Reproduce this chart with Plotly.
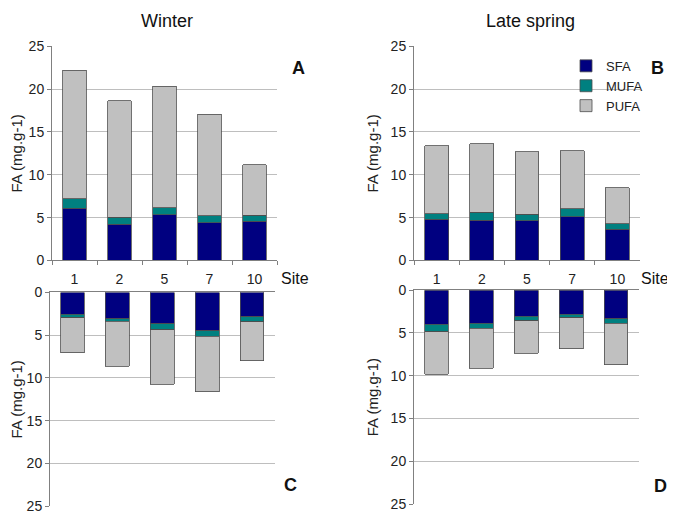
import plotly.graph_objects as go

sites = ["1", "2", "5", "7", "10"]

# Panel A: Winter (top)
a_sfa = [6.07, 4.22, 5.32, 4.41, 4.56]
a_mufa = [1.13, 0.83, 0.83, 0.79, 0.72]
a_pufa = [15.0, 13.62, 14.17, 11.88, 5.88]

# Panel B: Late spring (top)
b_sfa = [4.79, 4.71, 4.64, 5.13, 3.66]
b_mufa = [0.68, 0.91, 0.75, 0.90, 0.60]
b_pufa = [7.92, 8.03, 7.28, 6.79, 4.22]

# Panel C: Winter (bottom)
c_sfa = [2.57, 3.06, 3.66, 4.49, 2.87]
c_mufa = [0.41, 0.30, 0.68, 0.65, 0.57]
c_pufa = [4.08, 5.25, 6.38, 6.49, 4.53]

# Panel D: Late spring (bottom)
d_sfa = [3.97, 3.85, 3.02, 2.79, 3.36]
d_mufa = [0.86, 0.57, 0.57, 0.42, 0.53]
d_pufa = [4.99, 4.68, 3.81, 3.66, 4.83]

names = ["SFA", "MUFA", "PUFA"]
colors = ["#000080", "#008080", "#C0C0C0"]
y_ticks = [0, 5, 10, 15, 20, 25]

FONT = "Arial, Liberation Sans, sans-serif"

# page body has an 8px default margin; figure sized to fit the window
OFF = 8
W, H = 675 - OFF, 522 - OFF


def px(x):
    return (x - OFF) / W


def py(y):
    return 1 - (y - OFF) / H


fig = go.Figure()

panels = [
    ("x", "y", [a_sfa, a_mufa, a_pufa], False),
    ("x2", "y2", [b_sfa, b_mufa, b_pufa], True),
    ("x3", "y3", [c_sfa, c_mufa, c_pufa], False),
    ("x4", "y4", [d_sfa, d_mufa, d_pufa], False),
]
for xa, ya, series, show in panels:
    for name, col, vals in zip(names, colors, series):
        fig.add_trace(go.Bar(
            x=sites, y=vals, name=name, xaxis=xa, yaxis=ya,
            marker=dict(color=col, line=dict(color="#4d4d4d", width=0.8)),
            showlegend=show, legendgroup=name,
        ))

grid = "#BEBEBE"
axcol = "#808080"


def yax(domain, reverse):
    return dict(
        domain=domain, range=[25, 0] if reverse else [0, 25],
        tickvals=y_ticks, showgrid=True, gridcolor=grid, gridwidth=1,
        showline=True, linecolor=axcol, linewidth=1,
        ticks="outside", ticklen=4, tickcolor=axcol,
        tickfont=dict(size=14, color="#222"), zeroline=False,
        title=dict(text="FA (mg.g-1)", font=dict(size=15, color="#222"), standoff=8),
    )


def xax(domain, anchor, top):
    d = dict(
        domain=domain, anchor=anchor, type="category",
        showline=True, linecolor=axcol, linewidth=1,
        showgrid=False, zeroline=False,
        tickfont=dict(size=14, color="#222"),
    )
    if top:
        d.update(side="top", showticklabels=False, ticks="")
    else:
        d.update(ticks="outside", ticklen=4, tickcolor=axcol,
                 tickson="boundaries", ticklabelstandoff=6)
    return d


yA = [py(260.3), py(39.3)]
yC = [py(514), py(293.3)]
yD = [py(511.7), py(291)]

fig.update_layout(
    width=W, height=H,
    margin=dict(l=0, r=0, t=0, b=0),
    paper_bgcolor="white", plot_bgcolor="white",
    barmode="stack", bargap=0.47,
    font=dict(family=FONT, color="#222"),
    xaxis=xax([px(52), px(277)], "y", False),
    yaxis=yax(yA, False) | dict(anchor="x"),
    xaxis2=xax([px(414), px(640)], "y2", False),
    yaxis2=yax(yA, False) | dict(anchor="x2"),
    xaxis3=xax([px(50), px(274.5)], "y3", True),
    yaxis3=yax(yC, True) | dict(anchor="x3"),
    xaxis4=xax([px(414), px(638.5)], "y4", True),
    yaxis4=yax(yD, True) | dict(anchor="x4"),
    legend=dict(
        x=px(566), y=py(44), xanchor="left", yanchor="top",
        traceorder="normal", font=dict(size=13, color="#222"),
        bgcolor="rgba(0,0,0,0)", tracegroupgap=0,
    ),
)

ann = [
    dict(text="Winter", x=167, y=13, size=18, bold=False),
    dict(text="Late spring", x=530, y=13, size=18, bold=False),
    dict(text="A", x=298, y=62, size=18, bold=True),
    dict(text="B", x=657, y=62, size=18, bold=True),
    dict(text="C", x=290, y=492, size=18, bold=True),
    dict(text="D", x=660, y=493, size=18, bold=True),
    dict(text="Site", x=295, y=279, size=16, bold=False),
    dict(text="Site", x=655, y=279, size=16, bold=False),
]
for a in ann:
    fig.add_annotation(
        text=("<b>%s</b>" % a["text"]) if a["bold"] else a["text"],
        x=px(a["x"]), y=py(a["y"]), xref="paper", yref="paper",
        xanchor="center", yanchor="middle", showarrow=False,
        font=dict(size=a["size"], color="#111", family=FONT),
    )

fig.write_html("out.html")
